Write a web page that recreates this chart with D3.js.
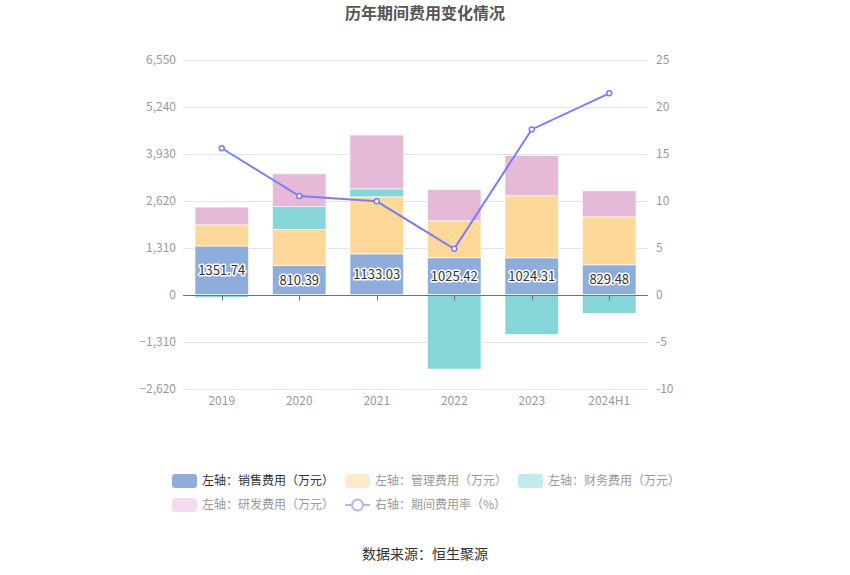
<!DOCTYPE html>
<html><head><meta charset="utf-8">
<script src="https://cdn.jsdelivr.net/npm/d3@7/dist/d3.min.js"></script>
<style>body{margin:0;background:#fff;}svg{display:block;font-family:"Noto Sans CJK SC","Noto Sans",sans-serif;}</style>
</head><body><svg id="c" width="850" height="575"></svg>
<script>
const categories = ["2019","2020","2021","2022","2023","2024H1"];
const sales = [1351.74, 810.39, 1133.03, 1025.42, 1024.31, 829.48];
const management = [591, 1002, 1590, 1029, 1727, 1336];
const finance = [-84, 641, 223, -2079, -1115, -530];
const rnd = [493, 911, 1497, 872, 1123, 725];
const rate = [15.56, 10.48, 9.91, 4.86, 17.56, 21.40];
const leftTicks = [-2620, -1310, 0, 1310, 2620, 3930, 5240, 6550];
const rightTicks = [-10, -5, 0, 5, 10, 15, 20, 25];

const seriesNames = ["销售费用","管理费用","财务费用","研发费用"];
const seriesColors = ["#8eaddb","#fed899","#86d5d8","#e6b9d8"];
const legendColors = ["#8eaddb","#ffeacb","#c3ebec","#f3dcee"];

const svg = d3.select("#c");
const L = 183, R = 648, T = 59.5, B = 388.5;
const x = d3.scaleBand().domain(categories).range([L, R]).paddingInner(0.31).paddingOuter(0.155);
const yL = d3.scaleLinear().domain([-2620, 6550]).range([B, T]);
const yR = d3.scaleLinear().domain([-10, 25]).range([B, T]);

// title
svg.append("text").attr("x", 425).attr("y", 19).attr("text-anchor", "middle")
  .attr("font-size", 16).attr("font-weight", "bold").attr("fill", "#555").text("历年期间费用变化情况");

// grid
svg.append("g").selectAll("line").data(leftTicks.filter(d => d !== 0)).join("line")
  .attr("x1", L).attr("x2", R).attr("y1", d => Math.round(yL(d)) + 0.5).attr("y2", d => Math.round(yL(d)) + 0.5)
  .attr("stroke", "#e0e6f1");

// left axis labels
svg.append("g").selectAll("text").data(leftTicks).join("text")
  .attr("x", 176).attr("y", d => yL(d)).attr("dy", "0.35em").attr("text-anchor", "end")
  .attr("font-size", 12).attr("fill", "#999").text(d => d3.format(",")(d));
// right axis labels
svg.append("g").selectAll("text").data(rightTicks).join("text")
  .attr("x", 656).attr("y", d => yR(d)).attr("dy", "0.35em").attr("text-anchor", "start")
  .attr("font-size", 12).attr("fill", "#999").text(d => d);

// stacked bars
const table = categories.map((c, i) => ({cat: c, s0: sales[i], s1: management[i], s2: finance[i], s3: rnd[i]}));
const stack = d3.stack().keys(["s0","s1","s2","s3"]).offset(d3.stackOffsetDiverging);
const layers = stack(table);
svg.append("g").selectAll("g").data(layers).join("g")
  .attr("fill", (d, i) => seriesColors[i])
  .selectAll("rect").data(d => d).join("rect")
  .attr("x", d => x(d.data.cat)).attr("width", x.bandwidth())
  .attr("y", d => yL(Math.max(d[0], d[1])))
  .attr("height", d => Math.abs(yL(d[0]) - yL(d[1])))
  .attr("stroke", "#fff").attr("stroke-opacity", 0.6).attr("stroke-width", 1);

// zero axis line + ticks
const y0 = Math.round(yL(0)) + 0.5;
svg.append("line").attr("x1", L).attr("x2", R).attr("y1", y0).attr("y2", y0).attr("stroke", "#6e7079");
svg.append("g").selectAll("line").data(categories).join("line")
  .attr("x1", d => Math.round(x(d) + x.bandwidth() / 2) + 0.5).attr("x2", d => Math.round(x(d) + x.bandwidth() / 2) + 0.5)
  .attr("y1", y0).attr("y2", y0 + 5).attr("stroke", "#6e7079");

// x labels
svg.append("g").selectAll("text").data(categories).join("text")
  .attr("x", d => x(d) + x.bandwidth() / 2).attr("y", 405).attr("text-anchor", "middle")
  .attr("font-size", 12).attr("fill", "#999").text(d => d);

// sales labels
svg.append("g").selectAll("text").data(table).join("text")
  .attr("x", d => x(d.cat) + x.bandwidth() / 2).attr("y", d => yL(d.s0 / 2)).attr("dy", "0.35em")
  .attr("text-anchor", "middle").attr("font-size", 13).attr("fill", "#333")
  .attr("stroke", "#fff").attr("stroke-width", 3).attr("paint-order", "stroke").attr("stroke-linejoin", "round")
  .text(d => d.s0.toFixed(2));

// line
const lineColor = "#7b7ef3";
const line = d3.line().x((d, i) => x(categories[i]) + x.bandwidth() / 2).y(d => yR(d));
svg.append("path").datum(rate).attr("d", line).attr("fill", "none").attr("stroke", lineColor).attr("stroke-width", 2);
svg.append("g").selectAll("circle").data(rate).join("circle")
  .attr("cx", (d, i) => x(categories[i]) + x.bandwidth() / 2).attr("cy", d => yR(d)).attr("r", 2.5)
  .attr("fill", "#fff").attr("stroke", lineColor).attr("stroke-width", 1.5);

// legend
const legendItems = [
  {label: "左轴：销售费用（万元）", color: legendColors[0], text: "#333", x: 172, y: 481},
  {label: "左轴：管理费用（万元）", color: legendColors[1], text: "#999", x: 345, y: 481},
  {label: "左轴：财务费用（万元）", color: legendColors[2], text: "#999", x: 518, y: 481},
  {label: "左轴：研发费用（万元）", color: legendColors[3], text: "#999", x: 172, y: 505},
];
const lg = svg.append("g");
legendItems.forEach(it => {
  lg.append("rect").attr("x", it.x).attr("y", it.y - 7).attr("width", 25).attr("height", 14).attr("rx", 3).attr("fill", it.color);
  lg.append("text").attr("x", it.x + 30).attr("y", it.y).attr("dy", "0.35em").attr("font-size", 12).attr("fill", it.text).text(it.label);
});
lg.append("line").attr("x1", 345).attr("x2", 370).attr("y1", 505).attr("y2", 505).attr("stroke", "#b4b6f8").attr("stroke-width", 2);
lg.append("circle").attr("cx", 357.5).attr("cy", 505).attr("r", 5.5).attr("fill", "#fff").attr("stroke", "#b4b6f8").attr("stroke-width", 2);
lg.append("text").attr("x", 375).attr("y", 505).attr("dy", "0.35em").attr("font-size", 12).attr("fill", "#999").text("右轴：期间费用率（%）");

// source
svg.append("text").attr("x", 425).attr("y", 559).attr("text-anchor", "middle").attr("font-size", 14).attr("fill", "#333").text("数据来源：恒生聚源");
</script></body></html>
